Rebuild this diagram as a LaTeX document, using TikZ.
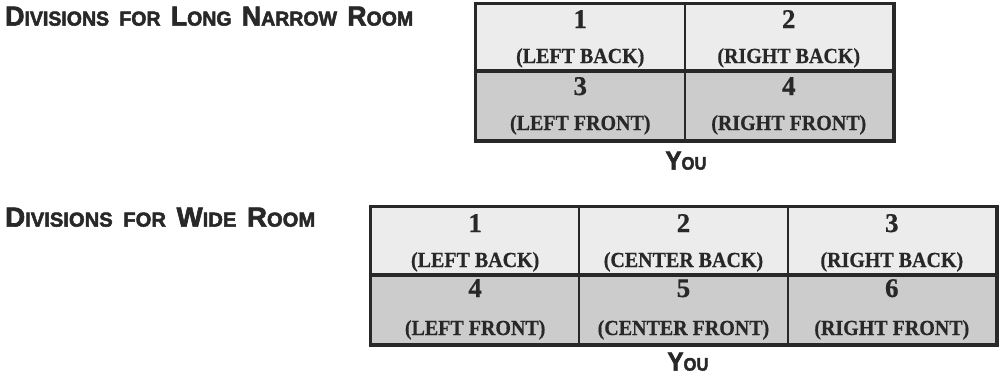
\documentclass[tikz,border=0pt]{standalone}
\usepackage{fontspec}
\usepackage{graphicx}
\setmainfont[BoldFeatures={FakeBold=0.6}]{Liberation Serif}
\newfontfamily\headfont[BoldFeatures={FakeBold=2.5}]{Liberation Sans}
\definecolor{backrow}{RGB}{236,236,236}
\definecolor{frontrow}{RGB}{204,204,204}
\definecolor{rule}{RGB}{40,40,40}
\newcommand\hsc[2]{{\fontsize{26}{26}\selectfont #1}{\fontsize{19}{19}\selectfont #2}}
\newcommand\wsp{\hspace{10pt}}
\newcommand\youtext{\resizebox{41pt}{18pt}{\headfont\bfseries{\fontsize{26}{26}\selectfont Y}{\fontsize{18}{18}\selectfont OU}}}
\newcommand\lab[1]{\scalebox{0.93}[1]{#1}}
\begin{document}
\begin{tikzpicture}[x=1pt,y=-1pt,
  cellbox/.style={draw=rule,line width=2pt,inner sep=0pt,anchor=north west},
  backcell/.style={cellbox,fill=backrow},
  frontcell/.style={cellbox,fill=frontrow},
  numtext/.style={anchor=base,inner sep=0pt,font=\fontsize{27}{27}\selectfont\bfseries,text=rule},
  labtext/.style={anchor=base,inner sep=0pt,font=\fontsize{21.5}{21.5}\selectfont\bfseries,text=rule},
  headtext/.style={anchor=south west,inner sep=0pt,text=rule},
  youstyle/.style={anchor=south,inner sep=0pt,text=rule},
  outer/.style={draw=rule,line width=3pt},
  midrule/.style={draw=rule,line width=4pt}]
\useasboundingbox (0,0) rectangle (1000,375);

% headings
\node[headtext] (h1) at (5,26) {\resizebox{408pt}{19pt}{\headfont\bfseries\hsc{D}{IVISIONS}\wsp\hsc{}{FOR}\wsp\hsc{L}{ONG}\wsp\hsc{N}{ARROW}\wsp\hsc{R}{OOM}}};
\node[headtext] (h2) at (5,227) {\resizebox{310pt}{19pt}{\headfont\bfseries\hsc{D}{IVISIONS}\wsp\hsc{}{FOR}\wsp\hsc{W}{IDE}\wsp\hsc{R}{OOM}}};

% long narrow room
\node[backcell,minimum width=208.5pt,minimum height=68pt] (a1) at (475,3) {};
\node[backcell,minimum width=208.5pt,minimum height=68pt] (a2) at (683.5,3) {};
\node[frontcell,minimum width=208.5pt,minimum height=68pt] (a3) at (475,71) {};
\node[frontcell,minimum width=208.5pt,minimum height=68pt] (a4) at (683.5,71) {};
\draw[outer] (a1.north west) rectangle (a4.south east);
\draw[midrule] (a3.north west) -- (a4.north east);
\foreach \c/\n/\l/\nb/\lb in {a1/1/LEFT BACK/28/63, a2/2/RIGHT BACK/28/63, a3/3/LEFT FRONT/95/130, a4/4/RIGHT FRONT/95/130}{
  \node[numtext] (\c n) at (\c.center |- 0,\nb) {\n};
  \node[labtext] (\c l) at (\c.center |- 0,\lb) {\lab{(\l)}};
}
\node[youstyle] (you1) at (686,170) {\youtext};

% wide room
\node[backcell,minimum width=208.3pt,minimum height=69pt] (b1) at (370,206) {};
\node[backcell,minimum width=208.3pt,minimum height=69pt] (b2) at (578.3,206) {};
\node[backcell,minimum width=208.4pt,minimum height=69pt] (b3) at (786.6,206) {};
\node[frontcell,minimum width=208.3pt,minimum height=68pt] (b4) at (370,275) {};
\node[frontcell,minimum width=208.3pt,minimum height=68pt] (b5) at (578.3,275) {};
\node[frontcell,minimum width=208.4pt,minimum height=68pt] (b6) at (786.6,275) {};
\draw[outer] (b1.north west) rectangle (b6.south east);
\draw[midrule] (b4.north west) -- (b6.north east);
\foreach \c/\n/\l/\nb/\lb in {b1/1/LEFT BACK/232/267, b2/2/CENTER BACK/232/267, b3/3/RIGHT BACK/232/267, b4/4/LEFT FRONT/297/335, b5/5/CENTER FRONT/297/335, b6/6/RIGHT FRONT/297/335}{
  \node[numtext] (\c n) at (\c.center |- 0,\nb) {\n};
  \node[labtext] (\c l) at (\c.center |- 0,\lb) {\lab{(\l)}};
}
\node[youstyle] (you2) at (688,371) {\youtext};
\end{tikzpicture}
\end{document}
